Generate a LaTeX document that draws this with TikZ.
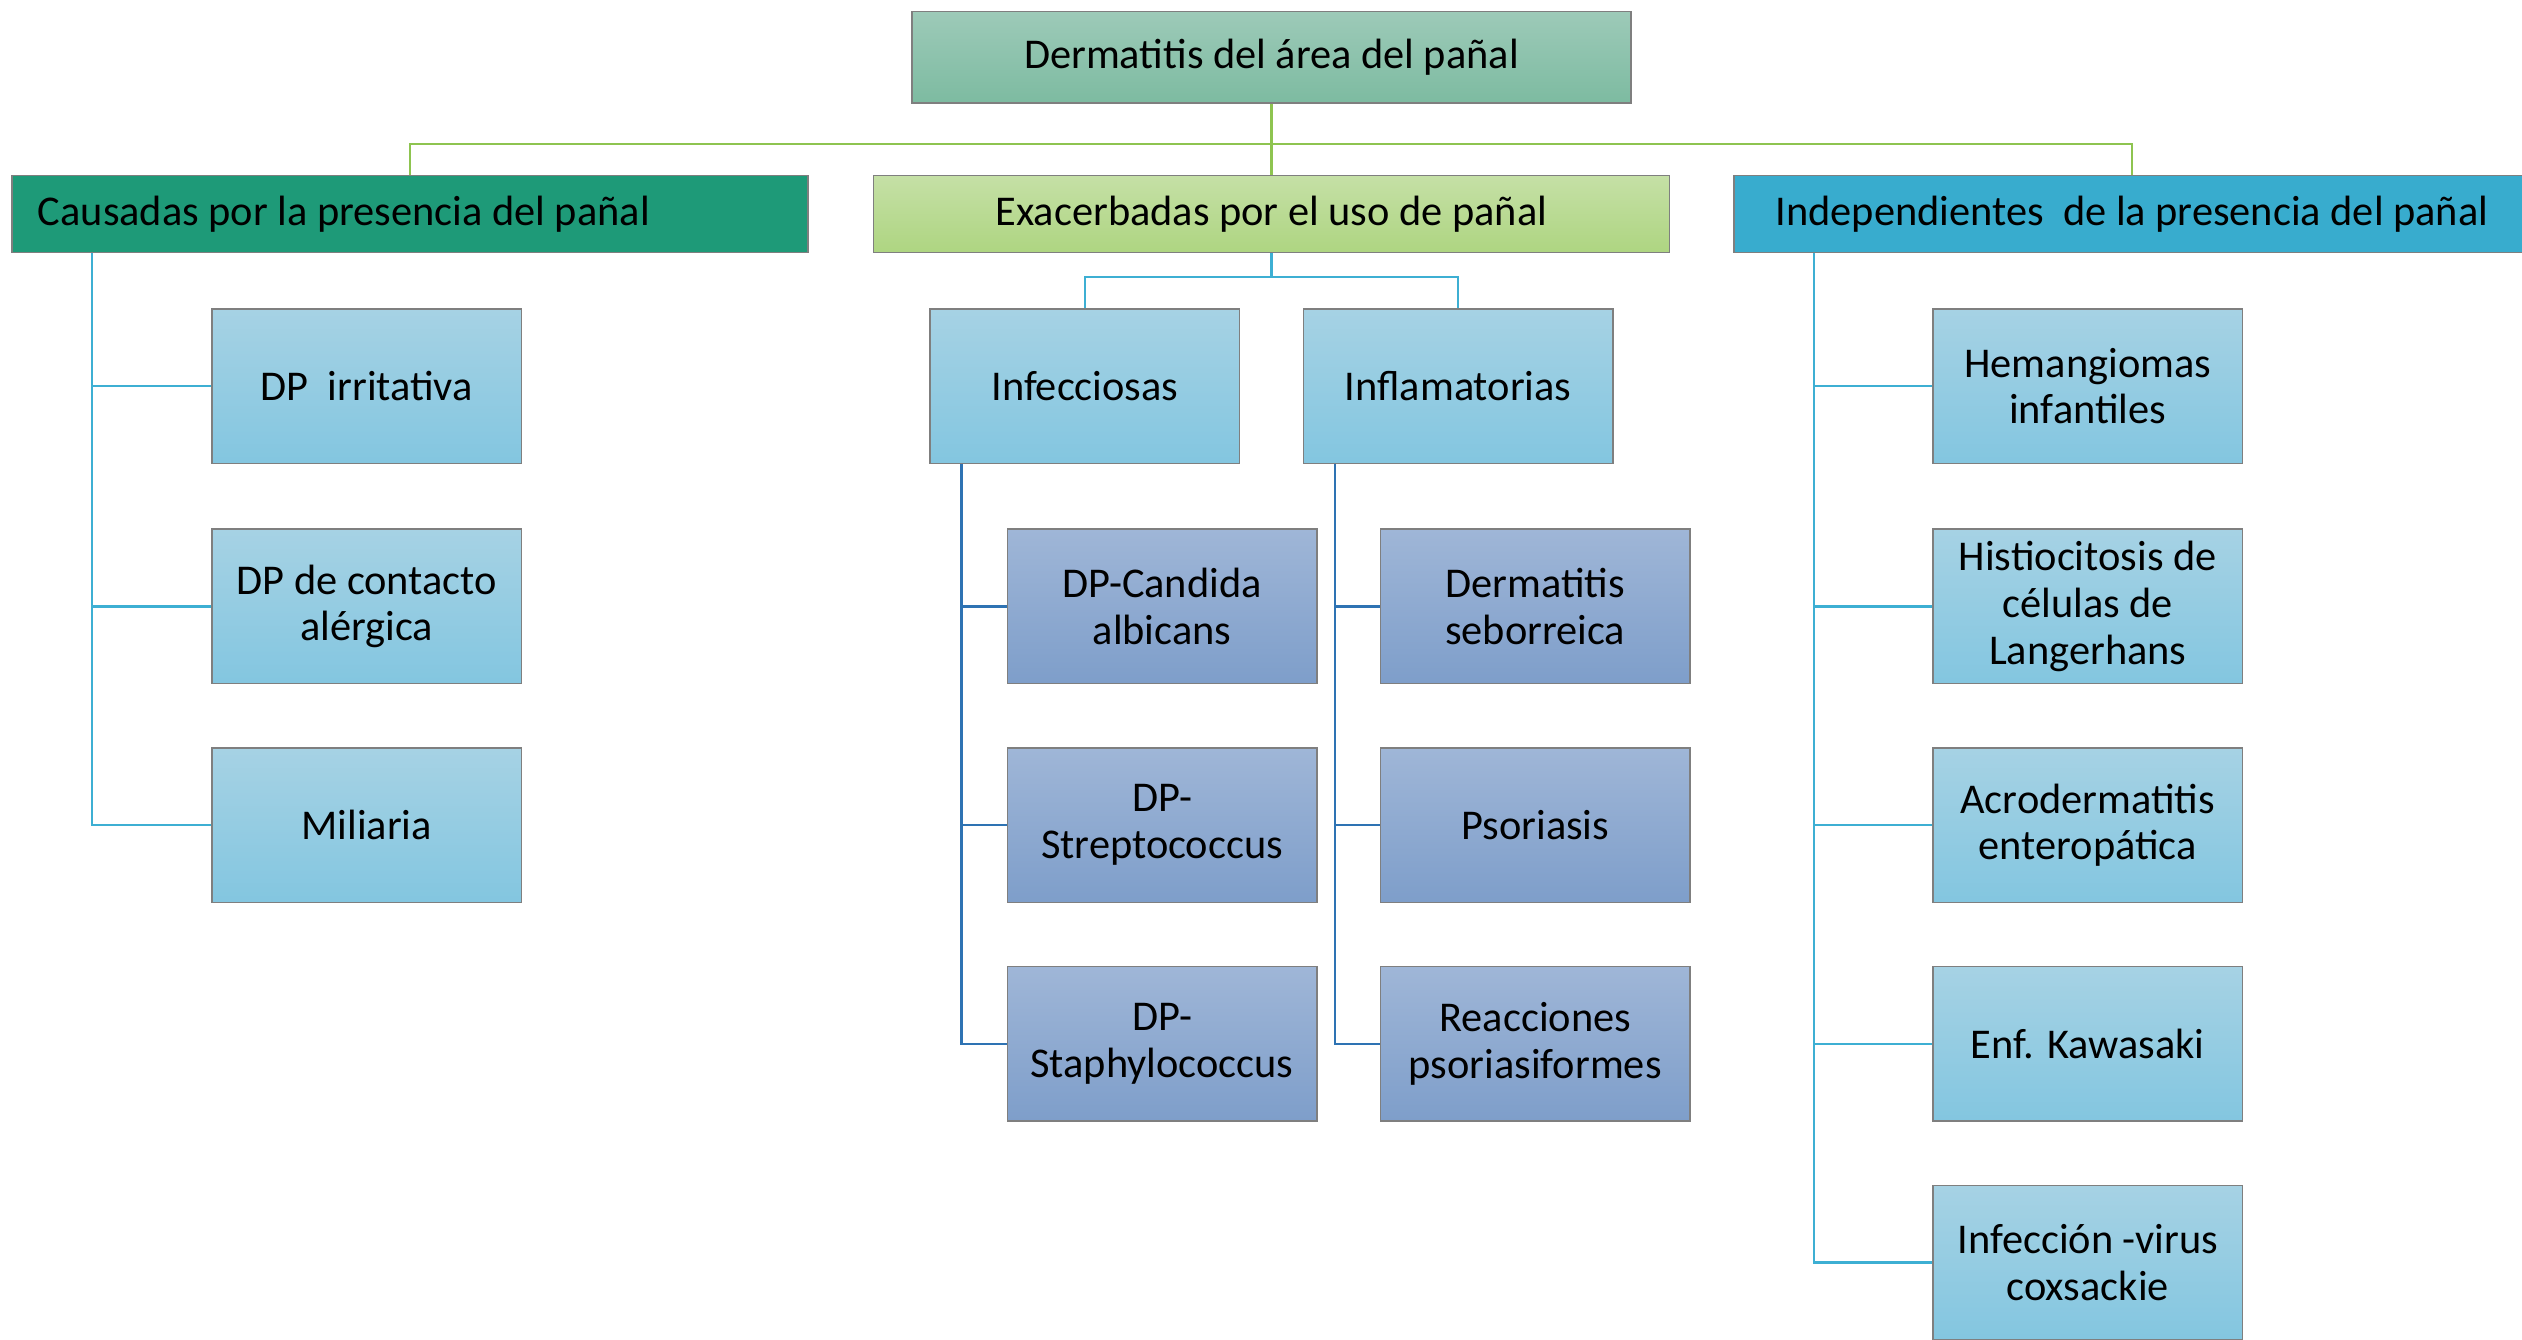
\documentclass[tikz,border=0pt]{standalone}
\usepackage{fontspec}
\setmainfont{Carlito}
\usetikzlibrary{calc}
\definecolor{rootTop}{HTML}{9DCAB8}
\definecolor{rootBot}{HTML}{7DBBA1}
\definecolor{causFill}{HTML}{1E9A78}
\definecolor{exaTop}{HTML}{C5E0A6}
\definecolor{exaBot}{HTML}{AED581}
\definecolor{indFill}{HTML}{38ACCE}
\definecolor{leafTop}{HTML}{A6D2E4}
\definecolor{leafBot}{HTML}{83C6E0}
\definecolor{subTop}{HTML}{9FB6D7}
\definecolor{subBot}{HTML}{7E9ECA}
\definecolor{lineGreen}{HTML}{8EC450}
\definecolor{lineCyan}{HTML}{3DAFD3}
\definecolor{lineBlue}{HTML}{2E73B3}
\definecolor{boxBorder}{HTML}{7F7F7F}
\tikzset{
  box/.style={draw=boxBorder, line width=0.5pt, inner sep=2pt, align=center,
    font=\fontsize{15}{16.5}\selectfont},
  rootbox/.style={box, minimum width=8.94cm, minimum height=1.14cm, top color=rootTop, bottom color=rootBot},
  lvone/.style={box, minimum width=9.9cm, minimum height=0.96cm},
  leaf/.style={box, minimum width=3.85cm, minimum height=1.92cm, top color=leafTop, bottom color=leafBot},
  subleaf/.style={box, minimum width=3.85cm, minimum height=1.92cm, top color=subTop, bottom color=subBot},
  greenline/.style={draw=lineGreen, line width=0.8pt},
  cyanline/.style={draw=lineCyan, line width=0.8pt},
  blueline/.style={draw=lineBlue, line width=0.8pt}
}
\begin{document}
\begin{tikzpicture}[x=0.02cm, y=-0.02cm]
  \useasboundingbox (0,0) rectangle (1568,832.5);

  \node[rootbox] (root) at (790.5,35.5) {Dermatitis del área del pañal};

  \node[lvone, fill=causFill, inner xsep=0.32cm] (cau) at (255,133) {\makebox[9.26cm][l]{Causadas por la presencia del pañal}};
  \node[lvone, top color=exaTop, bottom color=exaBot] (exa) at (790.5,133) {Exacerbadas por el uso de pañal};
  \node[lvone, fill=indFill] (ind) at (1325.5,133) {Independientes\ \ de la presencia del pañal};

  \node[leaf] (c1) at (228,240) {DP\ \ irritativa};
  \node[leaf] (c2) at (228,377) {DP de contacto\\alérgica};
  \node[leaf] (c3) at (228,513) {Miliaria};

  \node[leaf] (inf) at (674.5,240) {Infecciosas};
  \node[leaf] (infl) at (906.5,240) {Inflamatorias};

  \node[subleaf] (f1) at (722.5,377) {DP-Candida\\albicans};
  \node[subleaf] (f2) at (722.5,513) {DP-\\Streptococcus};
  \node[subleaf] (f3) at (722.5,649) {DP-\\Staphylococcus};

  \node[subleaf] (l1) at (954.5,377) {Dermatitis\\seborreica};
  \node[subleaf] (l2) at (954.5,513) {Psoriasis};
  \node[subleaf] (l3) at (954.5,649) {Reacciones\\psoriasiformes};

  \node[leaf] (i1) at (1298,240) {Hemangiomas\\infantiles};
  \node[leaf] (i2) at (1298,377) {Histiocitosis de\\células de\\Langerhans};
  \node[leaf] (i3) at (1298,513) {Acrodermatitis\\enteropática};
  \node[leaf] (i4) at (1298,649) {Enf. Kawasaki};
  \node[leaf] (i5) at (1298,785) {Infección -virus\\coxsackie};

  \coordinate (gbus) at ($(root.south)+(0,25)$);
  \draw[greenline] (root.south) -- (gbus);
  \foreach \n in {cau,exa,ind}
    \draw[greenline] (gbus) -| (\n.north);

  \coordinate (ebus) at ($(exa.south)+(0,15)$);
  \draw[cyanline] (exa.south) -- (ebus);
  \foreach \n in {inf,infl}
    \draw[cyanline] (ebus) -| (\n.north);

  \coordinate (cbus) at ($(cau.south west)+(50,0)$);
  \foreach \n in {c1,c2,c3}
    \draw[cyanline] (cbus) |- (\n.west);

  \coordinate (ibus) at ($(ind.south west)+(50,0)$);
  \foreach \n in {i1,i2,i3,i4,i5}
    \draw[cyanline] (ibus) |- (\n.west);

  \coordinate (fbus) at ($(inf.south west)+(20,0)$);
  \foreach \n in {f1,f2,f3}
    \draw[blueline] (fbus) |- (\n.west);

  \coordinate (lbus) at ($(infl.south west)+(20,0)$);
  \foreach \n in {l1,l2,l3}
    \draw[blueline] (lbus) |- (\n.west);
\end{tikzpicture}
\end{document}
